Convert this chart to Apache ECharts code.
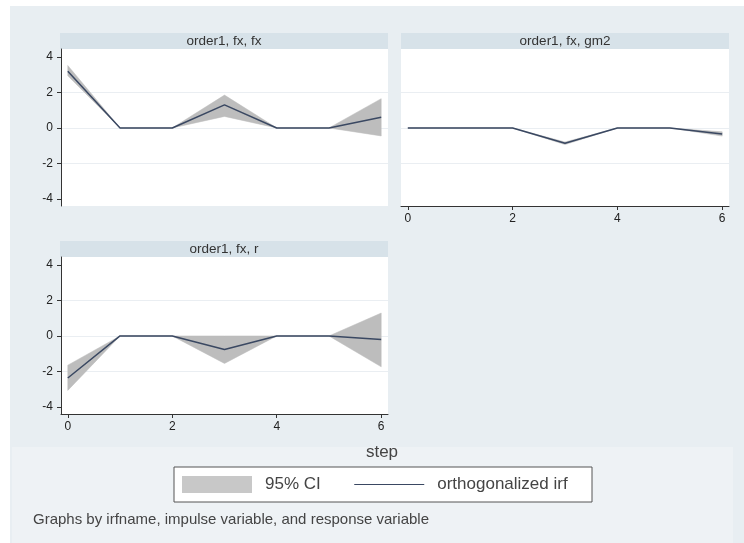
<!DOCTYPE html>
<html>
<head>
<meta charset="utf-8">
<script src="https://cdn.jsdelivr.net/npm/echarts@6/dist/echarts.min.js"></script>
<style>html,body{margin:0;padding:0;background:#fff;}#c{width:744px;height:543px;}</style>
</head>
<body>
<div id="c"></div>
<script>
// ---- data ----
var steps = [0, 1, 2, 3, 4, 5, 6];
var panelTitles = ['order1, fx, fx', 'order1, fx, gm2', 'order1, fx, r'];
var xTickLabels = [0, 2, 4, 6];
var yTickLabels = [-4, -2, 0, 2, 4];

var fxFxIrf = [3.2, 0, 0, 1.3, 0, 0, 0.6];
var fxFxLo  = [2.94, 0, 0, 0.65, 0, 0, -0.45];
var fxFxHi  = [3.52, 0, 0, 1.85, 0, 0, 1.65];

var fxGm2Irf = [0, 0, 0, -0.86, 0, 0, -0.34];
var fxGm2Lo  = [0, 0, 0, -0.94, 0, 0, -0.46];
var fxGm2Hi  = [0, 0, 0, -0.79, 0, 0, -0.22];

var fxRIrf = [-2.37, 0, 0, -0.76, 0, 0, -0.2];
var fxRLo  = [-3.07, 0, 0, -1.55, 0, 0, -1.74];
var fxRHi  = [-1.65, 0, 0, 0.0, 0, 0, 1.29];

var ciName = '95% CI';
var irfName = 'orthogonalized irf';
var footText = 'Graphs by irfname, impulse variable, and response variable';
var xTitle = 'step';

// ---- build ----
var panels = [
  {irf: fxFxIrf, lo: fxFxLo, hi: fxFxHi},
  {irf: fxGm2Irf, lo: fxGm2Lo, hi: fxGm2Hi},
  {irf: fxRIrf, lo: fxRLo, hi: fxRHi}
];
var grids = [
  {left: 61, top: 49, width: 327, height: 157},
  {left: 401, top: 49, width: 328, height: 157},
  {left: 61, top: 257, width: 327, height: 157}
];
var showX = [false, true, true];
var showY = [true, false, true];

function pairs(arr) { return steps.map(function (s, i) { return [s, arr[i]]; }); }

var xAxes = [], yAxes = [], series = [];
grids.forEach(function (g, k) {
  g.show = true; g.backgroundColor = '#ffffff'; g.borderWidth = 0; g.containLabel = false;
  xAxes.push({
    type: 'value', gridIndex: k, min: -0.13, max: 6.13,
    axisLine: {show: showX[k], onZero: false, lineStyle: {color: '#333', width: 1}},
    axisTick: {show: showX[k], length: 4, customValues: xTickLabels, lineStyle: {color: '#333'}},
    axisLabel: {show: showX[k], customValues: xTickLabels, margin: 7, color: '#222', fontSize: 12, fontFamily: 'Liberation Sans'},
    splitLine: {show: false}
  });
  yAxes.push({
    type: 'value', gridIndex: k, min: -4.4, max: 4.45,
    axisLine: {show: showY[k], onZero: false, lineStyle: {color: '#333', width: 1}},
    axisTick: {show: showY[k], length: 4, customValues: yTickLabels, lineStyle: {color: '#333'}},
    axisLabel: {show: showY[k], customValues: yTickLabels, margin: 8, color: '#222', fontSize: 12, fontFamily: 'Liberation Sans'},
    splitLine: {show: true, showMinLine: false, showMaxLine: false, lineStyle: {color: '#eaeef2', width: 1}}
  });
  var p = panels[k];
  var bandData = steps.map(function (s, i) { return [s, p.lo[i], p.hi[i]]; });
  series.push({
    name: ciName, type: 'custom', xAxisIndex: k, yAxisIndex: k,
    data: bandData, itemStyle: {color: '#c4c4c4'}, silent: true, z: 2,
    encode: {x: 0, y: [1, 2]},
    renderItem: function (params, api) {
      if (params.dataIndex !== 0) return null;
      var top = [], bot = [];
      for (var i = 0; i < bandData.length; i++) {
        top.push(api.coord([bandData[i][0], bandData[i][2]]));
        bot.unshift(api.coord([bandData[i][0], bandData[i][1]]));
      }
      return {
        type: 'polygon',
        shape: {points: top.concat(bot)},
        style: {fill: '#bdbdbd', stroke: '#bdbdbd', lineWidth: 0.5}
      };
    }
  });
  series.push({
    name: irfName, type: 'line', xAxisIndex: k, yAxisIndex: k,
    data: pairs(p.irf), symbol: 'none', showSymbol: false, lineStyle: {color: '#3a4862', width: 1.5},
    itemStyle: {color: '#3a4862'}, z: 3
  });
});

var titleBars = [
  {x: 60, y: 33, w: 328, cx: 224},
  {x: 401, y: 33, w: 328, cx: 565},
  {x: 60, y: 241, w: 328, cx: 224}
];
var graphics = [
  {type: 'rect', shape: {x: 10, y: 6, width: 734, height: 537}, style: {fill: '#e8eef2'}, z: -100, silent: true},
  {type: 'rect', shape: {x: 12, y: 447, width: 721, height: 96}, style: {fill: '#eef2f5'}, z: -99, silent: true},
  {type: 'rect', shape: {x: 174, y: 467, width: 418, height: 35}, style: {fill: '#ffffff', stroke: '#555555', lineWidth: 1}, z: 3, silent: true},
  {type: 'text', x: 382, y: 452, style: {text: xTitle, fill: '#444', font: '17px "Liberation Sans"', textAlign: 'center', textVerticalAlign: 'middle'}, z: 5},
  {type: 'text', x: 33, y: 520, style: {text: footText, fill: '#444', font: '15px "Liberation Sans"', textAlign: 'left', textVerticalAlign: 'middle'}, z: 5}
];
titleBars.forEach(function (t, k) {
  graphics.push({type: 'rect', shape: {x: t.x, y: t.y, width: t.w, height: 16}, style: {fill: '#d7e2e9'}, z: -50, silent: true});
  graphics.push({type: 'text', x: t.cx, y: t.y + 8, style: {text: panelTitles[k], fill: '#333', font: '13.5px "Liberation Sans"', textAlign: 'center', textVerticalAlign: 'middle'}, z: 5});
});

var option = {
  animation: false,
  backgroundColor: '#ffffff',
  grid: grids,
  xAxis: xAxes,
  yAxis: yAxes,
  series: series,
  legend: {
    left: 182, top: 476, padding: 0, itemWidth: 70, itemHeight: 17, itemGap: 33,
    textStyle: {fontSize: 17, color: '#444', fontFamily: 'Liberation Sans', padding: [0, 0, 0, 8]},
    selectedMode: false,
    data: [
      {name: ciName, icon: 'rect', itemStyle: {color: '#c8c8c8'}},
      {name: irfName, itemStyle: {opacity: 0}, lineStyle: {width: 1, color: '#3a4862', opacity: 1}}
    ],
    z: 6
  },
  graphic: graphics
};
var chart = echarts.init(document.getElementById('c'), null, {renderer: 'canvas'});
chart.setOption(option);
</script>
</body>
</html>
